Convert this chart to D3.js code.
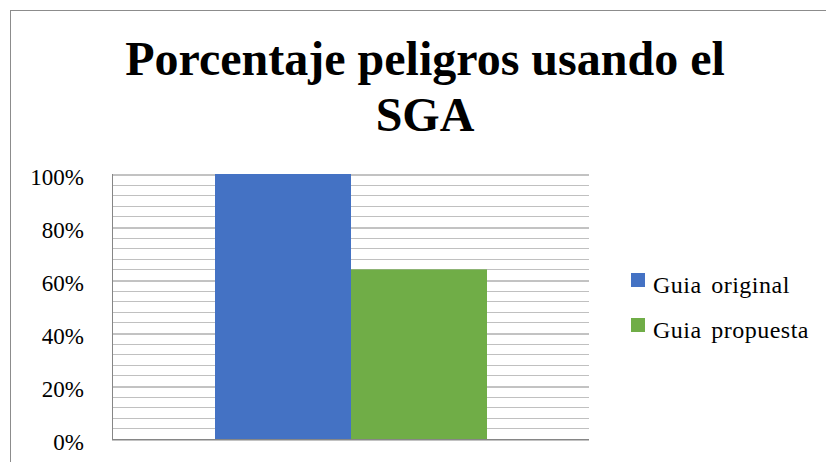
<!DOCTYPE html>
<html><head><meta charset="utf-8">
<script src="https://cdn.jsdelivr.net/npm/d3@7"></script>
<style>body{margin:0;background:#fff;}svg{display:block;}</style>
</head><body>
<script>
const titleLines = ["Porcentaje peligros usando el", "SGA"];
const seriesNames = ["Guia original", "Guia propuesta"];
const seriesValues = [1.00, 0.64];
const seriesColors = ["#4472C4", "#70AD47"];
const majorTicks = [0, 0.2, 0.4, 0.6, 0.8, 1.0];
const minorStep = 0.04;

const W = 826, H = 462;
const svg = d3.select("body").append("svg").attr("width", W).attr("height", H);
const font = "'Liberation Serif','Times New Roman',serif";

svg.append("rect").attr("x", 10.5).attr("y", 10.5).attr("width", W).attr("height", H)
  .attr("fill", "#fff").attr("stroke", "#8c8c8c").attr("stroke-width", 1);

const title = svg.append("text").attr("font-family", font).attr("font-weight", "bold")
  .attr("font-size", 48).attr("text-anchor", "middle").attr("fill", "#000");
titleLines.forEach((t, i) => title.append("tspan").attr("x", 425).attr("y", 75 + i * 56).text(t));

const plot = {left: 112, right: 589, top: 174, bottom: 439};
const y = d3.scaleLinear().domain([0, 1]).range([plot.bottom, plot.top]);
const x1 = d3.scaleBand().domain(seriesNames).range([plot.left + 103, plot.right - 102]);

const minor = d3.range(0, 1.0001, minorStep).filter(v => !majorTicks.some(m => Math.abs(m - v) < 1e-6));
svg.append("g").selectAll("line").data(minor).join("line")
  .attr("x1", plot.left).attr("x2", plot.right)
  .attr("y1", d => Math.round(y(d)) + 0.5).attr("y2", d => Math.round(y(d)) + 0.5)
  .attr("stroke", "#c0c0c0").attr("stroke-width", 1);

const yAxis = d3.axisLeft(y).tickValues(majorTicks).tickSize(-(plot.right - plot.left))
  .tickFormat(d3.format(".0%")).tickPadding(28);
const gy = svg.append("g").attr("transform", `translate(${plot.left},0.5)`).call(yAxis);
gy.select(".domain").remove();
gy.selectAll(".tick line").attr("stroke", "#868686");
gy.selectAll(".tick text").attr("font-family", font).attr("font-size", 23).attr("fill", "#000").attr("dy", "0.42em");

svg.append("line").attr("x1", plot.left + 0.5).attr("x2", plot.left + 0.5)
  .attr("y1", plot.top).attr("y2", plot.bottom).attr("stroke", "#868686");

svg.append("g").selectAll("rect").data(seriesValues).join("rect")
  .attr("x", (d, i) => x1(seriesNames[i])).attr("width", x1.bandwidth())
  .attr("y", d => y(d)).attr("height", d => plot.bottom - y(d))
  .attr("fill", (d, i) => seriesColors[i]);

svg.append("line").attr("x1", plot.left).attr("x2", plot.right)
  .attr("y1", plot.bottom + 0.5).attr("y2", plot.bottom + 0.5).attr("stroke", "#868686");

const leg = svg.append("g");
seriesNames.forEach((n, i) => {
  leg.append("rect").attr("x", 631).attr("y", 273 + i * 45).attr("width", 14).attr("height", 14).attr("fill", seriesColors[i]);
  leg.append("text").attr("x", 653).attr("y", 293 + i * 45).attr("font-family", font).attr("font-size", 24)
    .attr("letter-spacing", 0.5).attr("word-spacing", 3)
    .attr("fill", "#000").text(n);
});
</script>
</body></html>
